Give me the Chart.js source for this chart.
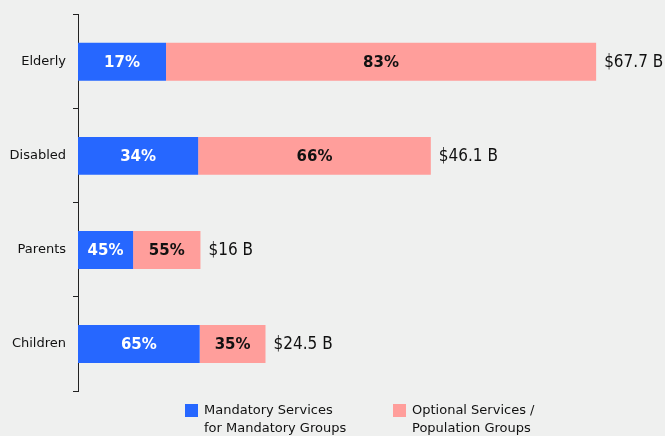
<!DOCTYPE html>
<html>
<head>
<meta charset="utf-8">
<script src="https://cdn.jsdelivr.net/npm/chart.js@4.4.1/dist/chart.umd.min.js"></script>
<style>
  html, body { margin: 0; padding: 0; background: #eff0ef; }
  #wrap { width: 665px; height: 436px; }
</style>
</head>
<body>
<div id="wrap"><canvas id="chart" width="665" height="436"></canvas></div>
<script>
// spending by group, in $ billions
const groups = ['Elderly', 'Disabled', 'Parents', 'Children'];
const mandatory = [11.5, 15.7, 7.2, 15.9];
const optional = [56.2, 30.4, 8.8, 8.6];
const mandatoryPct = ['17%', '34%', '45%', '65%'];
const optionalPct = ['83%', '66%', '55%', '35%'];
const totals = ['$67.7 B', '$46.1 B', '$16 B', '$24.5 B'];
const seriesNames = [
  ['Mandatory Services', 'for Mandatory Groups'],
  ['Optional Services /', 'Population Groups']
];

const BLUE = '#2667ff';
const PINK = '#ff9e9b';

// percent labels inside the bars + totals at the end
const barLabels = {
  id: 'barLabels',
  afterDatasetsDraw(chart) {
    const ctx = chart.ctx;
    const pcts = [mandatoryPct, optionalPct];
    const colors = ['#ffffff', '#111111'];
    ctx.save();
    ctx.textBaseline = 'middle';
    chart.data.datasets.forEach((ds, d) => {
      const meta = chart.getDatasetMeta(d);
      meta.data.forEach((bar, i) => {
        const p = bar.getProps(['x', 'y', 'base'], true);
        ctx.font = 'bold 15px "DejaVu Sans"';
        ctx.fillStyle = colors[d];
        ctx.textAlign = 'center';
        ctx.fillText(pcts[d][i], (p.x + p.base) / 2, p.y + 1);
        if (d === chart.data.datasets.length - 1) {
          ctx.font = '17px "DejaVu Sans Condensed", "DejaVu Sans"';
          ctx.fillStyle = '#111111';
          ctx.textAlign = 'left';
          ctx.fillText(totals[i], p.x + 8, p.y + 1);
        }
      });
    });
    ctx.restore();
  }
};

// two-line legend at the bottom
const legendBox = {
  id: 'legendBox',
  afterDraw(chart) {
    const ctx = chart.ctx;
    const xs = [185, 393];
    ctx.save();
    ctx.font = '13px "DejaVu Sans"';
    ctx.textBaseline = 'middle';
    ctx.textAlign = 'left';
    chart.data.datasets.forEach((ds, d) => {
      ctx.fillStyle = ds.backgroundColor;
      ctx.fillRect(xs[d], 404, 13, 13);
      ctx.fillStyle = '#111111';
      seriesNames[d].forEach((line, k) => {
        ctx.fillText(line, xs[d] + 19, 411 + k * 18);
      });
    });
    ctx.restore();
  }
};

new Chart(document.getElementById('chart'), {
  type: 'bar',
  data: {
    labels: groups,
    datasets: [
      { label: 'Mandatory', data: mandatory, backgroundColor: BLUE, borderWidth: 0 },
      { label: 'Optional', data: optional, backgroundColor: PINK, borderWidth: 0 }
    ]
  },
  options: {
    indexAxis: 'y',
    responsive: false,
    animation: false,
    categoryPercentage: 0.8,
    barPercentage: 0.504,
    layout: { padding: { top: 14, right: 13, bottom: 45, left: 0 } },
    plugins: {
      legend: { display: false },
      tooltip: { enabled: false }
    },
    scales: {
      x: { stacked: true, min: 0, max: 75, display: false },
      y: {
        stacked: true,
        border: { display: true, color: '#222222', width: 1 },
        grid: { drawOnChartArea: false, drawTicks: true, tickLength: 5, color: '#222222', offset: true },
        ticks: { color: '#111111', font: { family: 'DejaVu Sans', size: 13 }, padding: 7 },
        afterFit(scale) { scale.width = 78; }
      }
    }
  },
  plugins: [barLabels, legendBox]
});
</script>
</body>
</html>
